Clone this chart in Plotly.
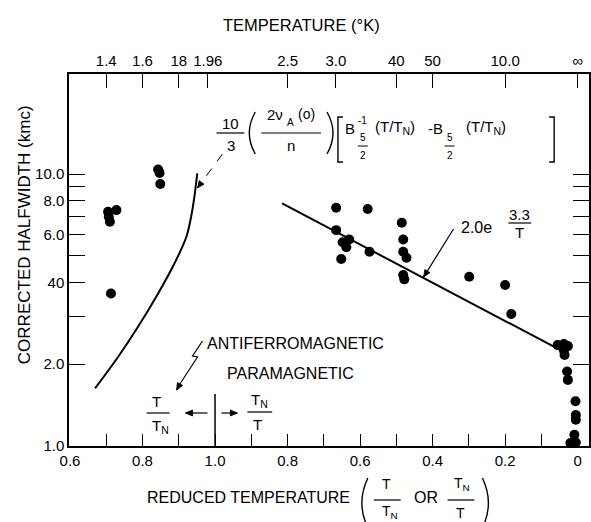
import math
import plotly.graph_objects as go

# ---------------- data ----------------
# antiferromagnetic region: reduced temperature T/T_N
afm_reduced = [0.705, 0.728, 0.707, 0.710, 0.713, 0.843, 0.847, 0.849]
afm_width = [7.27, 7.37, 6.97, 6.68, 3.64, 10.4, 10.1, 9.19]

# paramagnetic region: reduced temperature T_N/T
pm_reduced = [0.666, 0.579, 0.485, 0.666, 0.648, 0.630, 0.638, 0.652, 0.574, 0.481,
              0.481, 0.472, 0.481, 0.478, 0.299, 0.200, 0.183, 0.055, 0.038, 0.027,
              0.038, 0.036, 0.029, 0.027, 0.006, 0.005, 0.005, 0.009, 0.020, 0.005]
pm_width = [7.52, 7.44, 6.62, 6.22, 5.61, 5.75, 5.38, 4.87, 5.18, 5.75,
            5.18, 4.92, 4.25, 4.10, 4.19, 3.91, 3.06, 2.35, 2.37, 2.33,
            2.25, 2.16, 1.88, 1.75, 1.46, 1.30, 1.25, 1.10, 1.025, 1.03]

# theoretical curve (antiferromagnetic side, T/T_N)
theory_reduced = [0.669, 0.733, 0.788, 0.843, 0.888, 0.921, 0.934, 0.943, 0.951]
theory_width = [1.63, 2.13, 2.75, 3.64, 4.69, 5.88, 6.97, 8.25, 10.06]

# fitted line 2.0 e^(3.3/T) (paramagnetic side, T_N/T)
fit_reduced = [0.815, 0.055]
fit_width = [7.8, 2.28]

# axis ticks
left_major = [0.6, 0.8, 1.0]            # T/T_N, labelled
left_minor = [0.7, 0.9]
right_major = [0.8, 0.6, 0.4, 0.2, 0.0]  # T_N/T, labelled
right_minor = [0.9, 0.7, 0.5, 0.3, 0.1]
T_N = 2.0
top_temps = [1.4, 1.6, 1.8, 1.96, 2.5, 3.0, 4.0, 5.0, 10.0, None]
top_labels = ["1.4", "1.6", "18", "1.96", "2.5", "3.0", "40", "50", "10.0", "\u221e"]
y_major = [1, 2, 4, 6, 8, 10]
y_labels = ["1.0", "2.0", "40", "6.0", "8.0", "10.0"]
y_minor = [3, 5, 7, 9]

FONT = "Liberation Sans, Arial, sans-serif"


def u_afm(t):
    return t


def u_pm(r):
    return 2.0 - r


def u_temp(T):
    if T is None:
        return 2.0
    return T / T_N if T <= T_N else 2.0 - T_N / T


def fmt(v):
    return "0" if v == 0 else f"{v:.1f}"


# ---------------- layout geometry (pixels) ----------------
WIDTH, HEIGHT = 591, 522
L, TOP, PW, PH = 69, 74, 522, 372


def px(x):
    return (x - L) / PW


def py(y):
    return (TOP + PH - y) / PH


fig = go.Figure()

fig.add_trace(go.Scatter(x=[u_afm(v) for v in theory_reduced], y=theory_width,
                         mode="lines", line=dict(color="black", width=2, shape="spline"),
                         showlegend=False))
fig.add_trace(go.Scatter(x=[u_pm(v) for v in fit_reduced], y=fit_width,
                         mode="lines", line=dict(color="black", width=2),
                         showlegend=False))
fig.add_trace(go.Scatter(x=[u_afm(v) for v in afm_reduced], y=afm_width,
                         mode="markers", marker=dict(color="black", size=10),
                         showlegend=False))
fig.add_trace(go.Scatter(x=[u_pm(v) for v in pm_reduced], y=pm_width,
                         mode="markers", marker=dict(color="black", size=10),
                         showlegend=False, cliponaxis=False))
# invisible trace so the top axis is drawn
fig.add_trace(go.Scatter(x=[1.0], y=[1.5], xaxis="x2", mode="markers",
                         marker=dict(opacity=0), showlegend=False, hoverinfo="skip"))

bottom_vals = [u_afm(v) for v in left_major] + [u_pm(v) for v in right_major]
bottom_text = [fmt(v) for v in left_major] + [fmt(v) for v in right_major]
bottom_minor = [u_afm(v) for v in left_minor] + [u_pm(v) for v in right_minor]

x_range = [0.6 - 1 / 364, 0.6 - 1 / 364 + PW / 364]

fig.update_layout(
    width=WIDTH, height=HEIGHT,
    margin=dict(l=L, r=WIDTH - L - PW, t=TOP, b=HEIGHT - TOP - PH),
    paper_bgcolor="white", plot_bgcolor="white",
    font=dict(family=FONT, color="black", size=15),
    xaxis=dict(range=x_range, tickmode="array", tickvals=bottom_vals, ticktext=bottom_text,
               ticks="inside", ticklen=12, tickwidth=1.3, tickcolor="black",
               minor=dict(tickmode="array", tickvals=bottom_minor, ticks="inside",
                          ticklen=12, tickwidth=1.3, tickcolor="black", showgrid=False),
               showline=True, linecolor="black", linewidth=1.5, showgrid=False,
               zeroline=False, tickfont=dict(size=15), mirror=False),
    xaxis2=dict(range=x_range, overlaying="x", side="top", tickmode="array",
                tickvals=[u_temp(t) for t in top_temps], ticktext=top_labels,
                ticks="inside", ticklen=14, tickwidth=1.3, tickcolor="black",
                showline=True, linecolor="black", linewidth=1.5, showgrid=False,
                zeroline=False, tickfont=dict(size=15)),
    yaxis=dict(type="log", range=[0, 1.368], tickmode="array", tickvals=y_major,
               ticktext=y_labels, ticks="inside", ticklen=16, tickwidth=1.3,
               tickcolor="black",
               minor=dict(tickmode="array", tickvals=y_minor, ticks="inside",
                          ticklen=16, tickwidth=1.3, tickcolor="black", showgrid=False),
               showline=True, linecolor="black", linewidth=1.5,
               showgrid=False, zeroline=False, mirror="ticks", tickfont=dict(size=15)),
)

annotations = []
shapes = []


def ann(text, x, y, size=15, **kw):
    d = dict(text=text, x=px(x), y=py(y), xref="paper", yref="paper", showarrow=False,
             font=dict(size=size, color="black", family=FONT), xanchor="center",
             yanchor="middle")
    d.update(kw)
    annotations.append(d)


def seg(x0, y0, x1, y1, w=1.2, dash="solid"):
    shapes.append(dict(type="line", xref="paper", yref="paper", x0=px(x0), x1=px(x1),
                       y0=py(y0), y1=py(y1), line=dict(color="black", width=w, dash=dash)))


def hline(x0, x1, y, w=1.2):
    seg(x0, y, x1, y, w)


def path(points_cmd, w=1.4, fill=None):
    d = dict(type="path", xref="paper", yref="paper", path=points_cmd,
             line=dict(color="black", width=w))
    if fill:
        d["fillcolor"] = fill
    shapes.append(d)


def paren(xe, y0, y1, bulge):
    # bulge < 0 : "(" ; bulge > 0 : ")"
    ym = (y0 + y1) / 2
    path(f"M {px(xe)} {py(y0)} Q {px(xe + 2 * bulge)} {py(ym)} {px(xe)} {py(y1)}")


def bracket(xv, y0, y1, serif):
    path(f"M {px(xv + serif)} {py(y0)} L {px(xv)} {py(y0)} L {px(xv)} {py(y1)} L {px(xv + serif)} {py(y1)}")


def head(hx, hy, tx, ty, hl=7.0, hw=3.0):
    dx, dy = hx - tx, hy - ty
    n = math.hypot(dx, dy)
    dx, dy = dx / n, dy / n
    bx, by = hx - hl * dx, hy - hl * dy
    p1 = (bx - hw * dy, by + hw * dx)
    p2 = (bx + hw * dy, by - hw * dx)
    path(f"M {px(hx)} {py(hy)} L {px(p1[0])} {py(p1[1])} L {px(p2[0])} {py(p2[1])} Z",
         0.8, "black")


def arrow(hx, hy, tx, ty, w=1.2, dash="solid"):
    seg(tx, ty, hx, hy, w, dash)
    head(hx, hy, tx, ty)


# titles
ann("TEMPERATURE (\u00b0K)", 302, 25, 16.5)
ann("CORRECTED HALFWIDTH (kmc)", 25, 235, 17, textangle=-90)
ann("REDUCED TEMPERATURE", 249, 498, 16)
paren(369, 478, 528, -6)
ann("T", 388, 484, 14)
hline(375, 402, 500)
ann("T<sub>N</sub>", 391, 512, 14)
ann("OR", 427, 498, 16)
ann("T<sub>N</sub>", 464, 484, 14)
hline(449, 476, 500)
ann("T", 462, 513, 14)
paren(484, 478, 528, 6)

# theoretical formula
ann("10", 231, 123, 15)
hline(217, 245, 133)
ann("3", 232, 145, 15)
paren(256, 112, 154, -6)
ann("2\u03bd", 276, 114, 15)
ann("A", 291, 122, 10)
ann("(o)", 307, 114, 14)
hline(262, 322, 133)
ann("n", 292, 145, 15)
paren(328, 112, 154, 6)
bracket(339, 117, 162, 5)
ann("B", 351, 128, 15)
ann("-1", 364, 120, 10)
ann("5", 364, 137, 10)
hline(359, 369, 146, 1)
ann("2", 364, 155, 10)
ann("(T/T<sub>N</sub>)", 396, 127, 15)
ann("-B", 437, 128, 15)
ann("5", 451, 137, 10)
hline(446, 456, 146, 1)
ann("2", 451, 155, 10)
ann("(T/T<sub>N</sub>)", 488, 127, 15)
bracket(556, 117, 162, -5)
arrow(198, 188, 223, 154, 1.0, "dash")

# fitted line label
ann("2.0e", 478, 227, 16)
ann("3.3", 521, 214, 15)
hline(510, 533, 223)
ann("T", 521, 233, 15)
arrow(425, 277, 455, 229, 1.2)

# phase labels
ann("ANTIFERROMAGNETIC", 296, 343, 16)
ann("PARAMAGNETIC", 291, 373, 16)
path(f"M {px(203)} {py(341)} L {px(193)} {py(356)} L {px(198)} {py(357)} L {px(181)} {py(383)}", 1.2)
arrow(177, 390, 181, 383, 1.2)

ann("T", 157, 401, 15)
hline(147, 170, 413)
ann("T<sub>N</sub>", 161, 426, 15)
arrow(186, 413, 208, 413, 1.2)
shapes.append(dict(type="line", xref="x", yref="paper", x0=1.0, x1=1.0,
                   y0=py(394), y1=0, line=dict(color="black", width=1.5)))
arrow(238, 413, 222, 413, 1.2)
ann("T<sub>N</sub>", 260, 400, 15)
hline(248, 273, 412)
ann("T", 258, 424, 15)

fig.update_layout(annotations=annotations, shapes=shapes)

fig.write_html("out.html")
